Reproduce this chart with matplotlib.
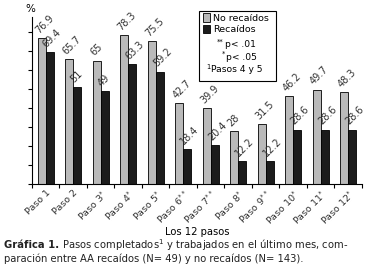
import matplotlib.pyplot as plt
import numpy as np

labels = ['Paso 1', 'Paso 2', 'Paso 3$^{*}$', 'Paso 4$^{*}$', 'Paso 5$^{*}$',
          'Paso 6$^{**}$', 'Paso 7$^{**}$', 'Paso 8$^{*}$', 'Paso 9$^{**}$',
          'Paso 10$^{*}$', 'Paso 11$^{*}$', 'Paso 12$^{*}$']
no_recaidos = [76.9, 65.7, 65, 78.3, 75.5, 42.7, 39.9, 28, 31.5, 46.2, 49.7, 48.3]
recaidos    = [69.4, 51, 49, 63.3, 59.2, 18.4, 20.4, 12.2, 12.2, 28.6, 28.6, 28.6]
note_marks = ['**', '*', '1']
note_texts = ['p< .01', 'p< .05', 'Pasos 4 y 5']

fig = plt.figure(figsize=(3.67, 2.75), dpi=100)
ax = fig.add_axes([0.087, 0.331, 0.899, 0.607])

x = np.arange(len(labels)) + 0.5
w = 0.29
ax.bar(x - w/2, no_recaidos, w, color='#bababa', edgecolor='black', linewidth=0.6,
       label='No recaídos')
ax.bar(x + w/2, recaidos, w, color='#1c1c1c', edgecolor='black', linewidth=0.6,
       label='Recaídos')

for xi, v in zip(x - w/2, no_recaidos):
    ax.text(xi - 0.05, v + 1.5, f'{v:g}', rotation=45, rotation_mode='anchor',
            ha='left', va='bottom', fontsize=7, color='#333333')
for xi, v in zip(x + w/2, recaidos):
    ax.text(xi - 0.05, v + 1.5, f'{v:g}', rotation=45, rotation_mode='anchor',
            ha='left', va='bottom', fontsize=7, color='#333333')

ax.set_xlim(0, 12)
ax.set_ylim(0, 88)
ax.set_yticks(np.arange(0, 81, 10))
ax.set_yticklabels([])
ax.set_xticks(np.arange(0, 13))
ax.set_xticklabels([])
ax.set_xticks(x, minor=True)
ax.set_xticklabels(labels, minor=True, rotation=45, ha='right', rotation_mode='anchor',
                   fontsize=6.8, color='#333333')
ax.tick_params(axis='x', which='minor', length=0, pad=3)
ax.tick_params(axis='both', which='major', length=3, width=0.8)
ax.spines['top'].set_visible(False)
ax.spines['right'].set_visible(False)

ax.text(-0.05, 92, '%', fontsize=7.5, ha='center', va='center', clip_on=False)
ax.set_xlabel('Los 12 pasos', fontsize=7.2, labelpad=0)

# legend box with notes
box = plt.Rectangle((0.542, 0.705), 0.21, 0.255, transform=fig.transFigure,
                    fill=False, edgecolor='black', linewidth=0.8)
fig.add_artist(box)
leg = ax.legend(loc='upper left', bbox_to_anchor=(0.552, 0.952),
                bbox_transform=fig.transFigure, fontsize=6.8, frameon=False,
                handlelength=0.75, handleheight=1.0, handletextpad=0.35,
                borderpad=0.0, borderaxespad=0, labelspacing=0.2)
for (xt, yt), m, s in zip([(0.592, 0.838), (0.604, 0.792), (0.562, 0.746)],
                          note_marks, note_texts):
    mk = fig.text(xt, yt + 0.012, m, fontsize=4.8, va='center', ha='left')
    fig.canvas.draw()
    mb = mk.get_window_extent().transformed(fig.transFigure.inverted())
    fig.text(mb.x1 + 0.002, yt, s, fontsize=6.6, va='center', ha='left')

cap1 = fig.text(0.01, 0.109, 'Gráfica 1.', fontsize=7.2, fontweight='bold',
                color='#222222', va='center')
fig.canvas.draw()
bb = cap1.get_window_extent().transformed(fig.transFigure.inverted())
fig.text(bb.x1 + 0.008, 0.109, 'Pasos completados$^{1}$ y trabajados en el último mes, com-',
         fontsize=7.2, color='#222222', va='center')
fig.text(0.01, 0.058, 'paración entre AA recaídos (N= 49) y no recaídos (N= 143).',
         fontsize=7.2, color='#222222', va='center')

fig.savefig('out.png', dpi=100)
